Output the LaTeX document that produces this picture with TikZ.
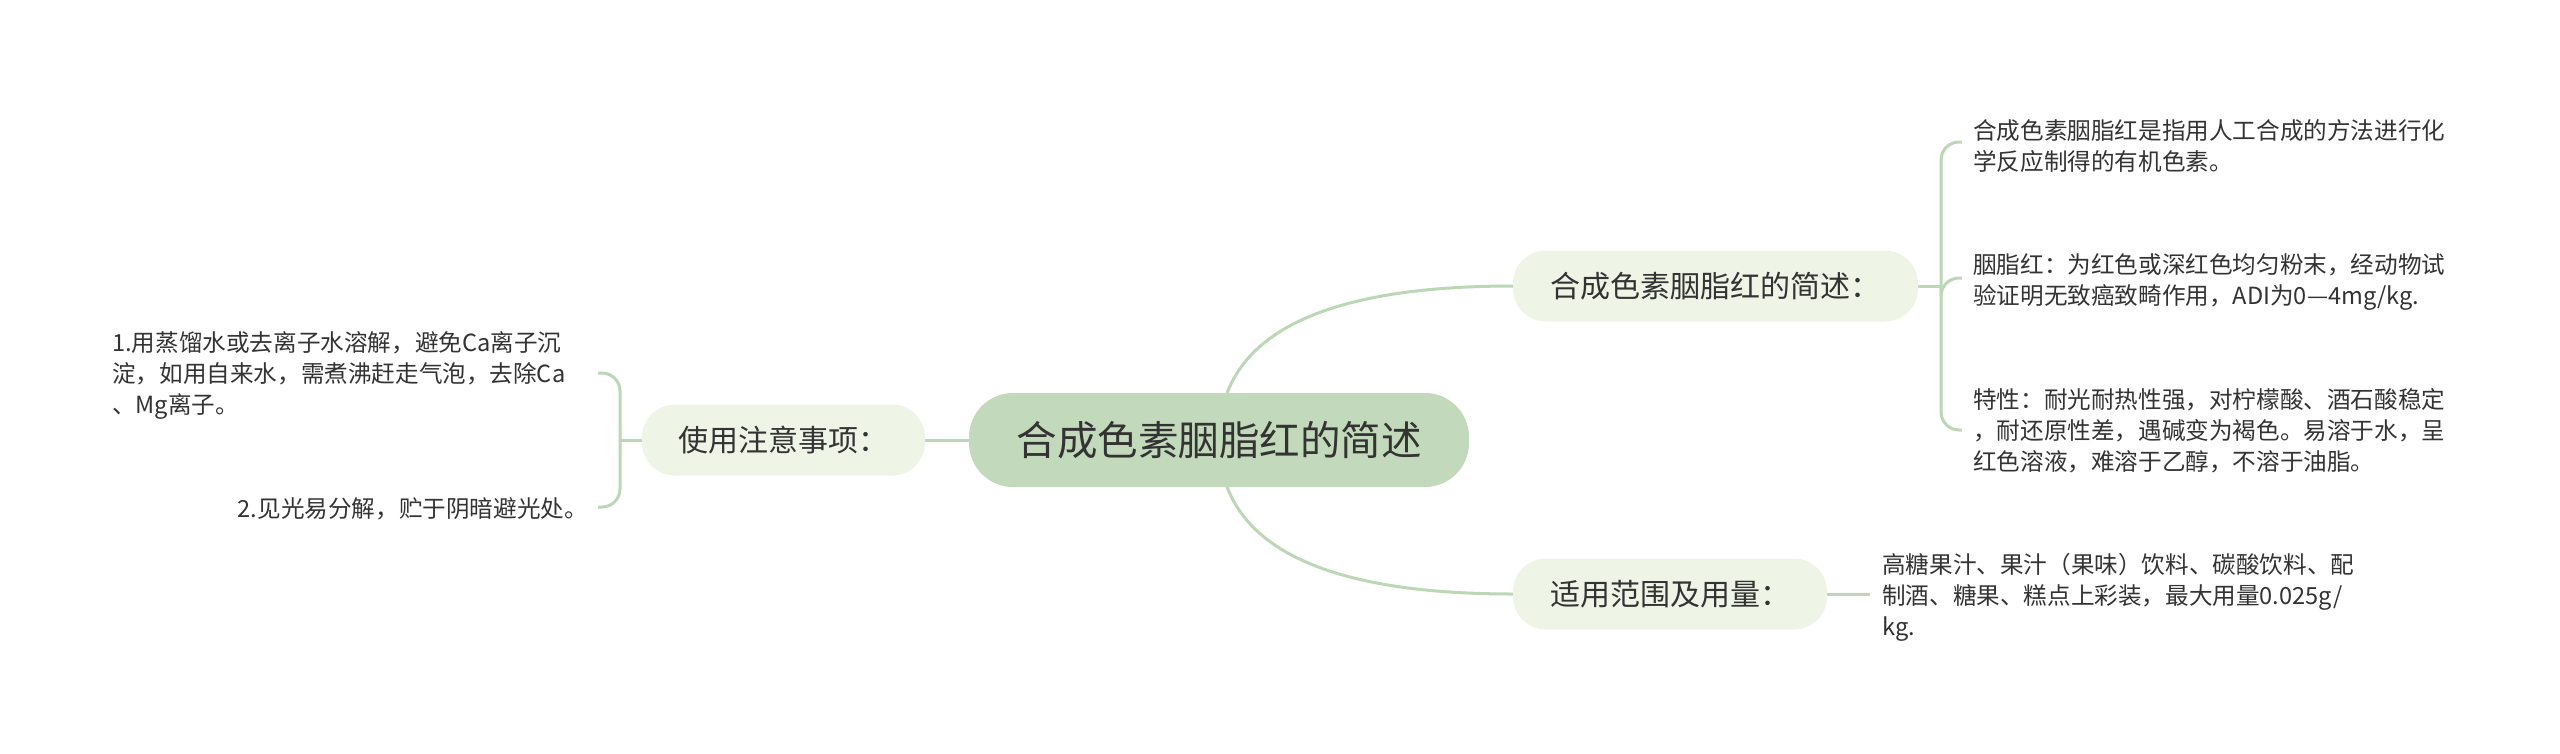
\documentclass[tikz,border=0pt]{standalone}
\usepackage{fontspec}
\setmainfont{Noto Sans CJK SC}
\usetikzlibrary{backgrounds}
\definecolor{mainfill}{HTML}{C2DABB}
\definecolor{subfill}{HTML}{EEF5E6}
\definecolor{linec}{HTML}{BDD7B6}
\definecolor{txt}{HTML}{333333}
\begin{document}
\begin{tikzpicture}[x=1pt,y=-1pt,
 mainnode/.style={fill=mainfill,rounded corners=44pt,minimum width=500pt,minimum height=94pt,inner sep=0pt,text=txt,font=\fontsize{40.5}{48}\selectfont},
 subnode/.style={fill=subfill,rounded corners=33pt,minimum height=71pt,inner sep=0pt,text=txt,font=\fontsize{30}{36}\selectfont},
 leaf/.style={align=left,inner sep=0pt,text=txt,font=\fontsize{23.6}{31}\selectfont},
 conn/.style={draw=linec,line width=3pt},
 bracket/.style={conn,rounded corners=18pt}]
\useasboundingbox (0,0) rectangle (2560,753);
\node[mainnode] (root) at (1219,440) {合成色素胭脂红的简述};
\node[subnode,minimum width=405pt] (a) at (1715.5,286) {合成色素胭脂红的简述：};
\node[subnode,minimum width=314pt] (b) at (1670,594) {适用范围及用量：};
\node[subnode,minimum width=283pt] (c) at (783.5,440) {使用注意事项：};
\node[leaf,anchor=west] (a1) at (1973,146) {合成色素胭脂红是指用人工合成的方法进行化\\学反应制得的有机色素。};
\node[leaf,anchor=west] (a2) at (1973,282) {胭脂红：为红色或深红色均匀粉末，经动物试\\验证明无致癌致畸作用，ADI为0—4mg/kg.};
\node[leaf,anchor=west] (a3) at (1973,431) {特性：耐光耐热性强，对柠檬酸、酒石酸稳定\\，耐还原性差，遇碱变为褐色。易溶于水，呈\\红色溶液，难溶于乙醇，不溶于油脂。};
\node[leaf,anchor=west] (b1) at (1882,597) {高糖果汁、果汁（果味）饮料、碳酸饮料、配\\制酒、糖果、糕点上彩装，最大用量0.025g/\\kg.};
\node[leaf,anchor=west] (c1) at (112,375) {1.用蒸馏水或去离子水溶解，避免Ca离子沉\\淀，如用自来水，需煮沸赶走气泡，去除Ca\\、Mg离子。};
\node[leaf,anchor=east] (c2) at (588,509) {2.见光易分解，贮于阴暗避光处。};
\begin{scope}[on background layer]
\fill[white] (0,0) rectangle (2560,753);
\draw[conn] (root.center) .. controls +(0,-102.7) and +(-196,0) .. (a.west);
\draw[conn] (root.center) .. controls +(0,102.7) and +(-196,0) .. (b.west);
\draw[conn] (root.center) -- (c.center);
\coordinate (ja) at (1941,286);
\draw[conn] (a.east) -- (ja);
\draw[bracket] (ja) |- ([xshift=-11pt,yshift=4pt]a1.west);
\draw[bracket] (ja) |- ([xshift=-11pt,yshift=4pt]a2.west);
\draw[bracket] (ja) |- ([xshift=-11pt,yshift=1pt]a3.west);
\coordinate (tb) at ([xshift=-12pt]b.east -| b1.west);
\draw[conn] (b.east) -- (tb);
\coordinate (jc) at (620,440);
\coordinate (tc1) at (598,373);
\coordinate (tc2) at (598,507);
\draw[conn] (c.west) -- (jc);
\draw[bracket] (jc) |- (tc1);
\draw[bracket] (jc) |- (tc2);
\end{scope}
\end{tikzpicture}
\end{document}
